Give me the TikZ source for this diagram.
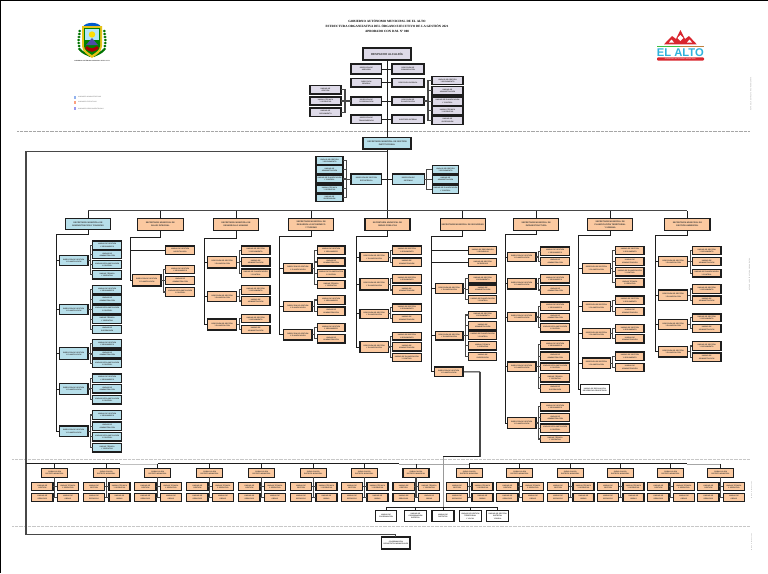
\documentclass[tikz,border=0pt]{standalone}
\usepackage{fontspec}
\setmainfont{Liberation Sans}
\newfontfamily\titlefont{Liberation Serif}
\definecolor{bxblue}{HTML}{B7DFEA}
\definecolor{bxorange}{HTML}{FBC9A0}
\definecolor{bxlav}{HTML}{DEDAE8}
\definecolor{txtgray}{HTML}{333333}
\definecolor{lnk}{HTML}{1E1E1E}
\definecolor{frm}{HTML}{474747}
\definecolor{logored}{HTML}{D9252E}
\definecolor{logoblue}{HTML}{2FB2DC}
\tikzset{
  boxbase/.style={draw=lnk,line width=1.05pt,inner sep=0pt,outer sep=0pt,align=center,text=txtgray,
     font=\bfseries\fontsize{1.75}{2.3}\selectfont},
  bblue/.style={boxbase,fill=bxblue},
  borange/.style={boxbase,fill=bxorange},
  blav/.style={boxbase,fill=bxlav},
  bwhite/.style={boxbase,fill=white},
  bsec/.style={font=\bfseries\fontsize{2.1}{2.9}\selectfont},
  conn/.style={draw=lnk,line width=0.9pt},
  spine/.style={draw=frm,line width=1.05pt},
  framel/.style={draw=frm,line width=1.15pt},
  sepl/.style={draw=black!35,line width=0.5pt,dash pattern=on 0.8pt off 0.5pt},
  tinyt/.style={text=black!60,inner sep=0pt,font=\fontsize{1.6}{2}\selectfont},
}
% box from corner to corner, in reference pixels
\newcommand{\bx}[7]{%
  \pgfmathsetmacro\bxa{#3}\pgfmathsetmacro\bxb{#4}\pgfmathsetmacro\bxc{#5}\pgfmathsetmacro\bxd{#6}%
  \node[#2,minimum width={(\bxc-\bxa)*1pt},minimum height={(\bxd-\bxb)*1pt}] (#1) at ({(\bxa+\bxc)/2},{(\bxb+\bxd)/2}) {#7};}
\newcommand{\leaf}[1]{\ifcase\numexpr#1-1\relax UNIDAD DE GESTIÓN\\Y SEGUIMIENTO\or UNIDAD DE\\ADMINISTRACIÓN\or UNIDAD DE PLANIFICACIÓN\\Y CONTROL\or UNIDAD TÉCNICA\\Y OPERATIVA\else UNIDAD DE\\SUPERVISIÓN\fi}
\newcommand{\dtxt}{DIRECCIÓN DE GESTIÓN\\Y PLANIFICACIÓN}
% director hanging from trunk: trunk name, node name, style, x1,y1,x2,y2
\newcommand{\dirb}[7]{\bx{#2}{#3}{#4}{#5}{#6}{#7}{\dtxt}\draw[conn] (#2.west) -- (#1 |- #2.west);}
% children: parent, style, x1, x2, list y1/y2
\newcommand{\kids}[5]{\foreach \ya/\yb [count=\ki] in {#5}{%
  \bx{#1k\ki}{#2}{#3}{\ya}{#4}{\yb}{\leaf{\ki}}%
  \draw[spine] (#1.east) -- ++(2.4,0) |- (#1k\ki.west);}}
% trunk from a secretariat: node, trunk coordinate, x, y
\newcommand{\trunk}[4]{\coordinate (#2) at (#3,#4); \draw[conn] (#1.south) |- (#2);}
\begin{document}
\begin{tikzpicture}[x=1pt,y=-1pt]
\useasboundingbox (0,0) rectangle (768,573);
\fill[white] (0,0) rectangle (768,573);
\fill[black] (0,0) rectangle (768,1);
\fill[black] (0,0) rectangle (1,573);

% ---- title
\node[inner sep=0pt,font=\titlefont\bfseries\fontsize{3.2}{5}\selectfont,align=center,text=black] (title) at (387,26)
  {GOBIERNO AUTÓNOMO MUNICIPAL DE EL ALTO\\ESTRUCTURA ORGANIZATIVA DEL ÓRGANO EJECUTIVO DE LA GESTIÓN 2021\\APROBADO CON D.M. N° 000};

% ---- coat of arms
\foreach \yy in {31,34,37,40,43,46,49}{
  \fill[green!45!black] ({78.5+abs(\yy-41)*0.12},\yy) ellipse (1.6 and 1.3);
  \fill[green!45!black] ({105.5-abs(\yy-41)*0.12},\yy) ellipse (1.6 and 1.3);
}
\fill[green!45!black] (79,50) .. controls (82,54) and (86,55) .. (90,57) -- (91,55) .. controls (87,53) and (83,52) .. (81,49) -- cycle;
\fill[green!45!black] (105,50) .. controls (102,54) and (98,55) .. (94,57) -- (93,55) .. controls (97,53) and (101,52) .. (103,49) -- cycle;
\fill[blue!55!cyan!80!black] (83,27) .. controls (85,21.5) and (99,21.5) .. (101,27) -- cycle;
\fill[yellow!70!orange!90!black] (82,26) -- (102,26) -- (102,46) .. controls (102,52) and (96,55) .. (92,58) .. controls (88,55) and (82,52) .. (82,46) -- cycle;
\fill[green!50!black] (84,28) -- (100,28) -- (100,46) .. controls (100,50) and (95,53) .. (92,55) .. controls (89,53) and (84,50) .. (84,46) -- cycle;
\fill[cyan!30!white] (85,29) -- (99,29) -- (99,40) -- (85,40) -- cycle;
\fill[yellow!80!orange] (92,34.5) circle (3.2);
\fill[blue!50!black!70] (86,45) -- (92,38) -- (98,45) -- cycle;
\fill[red!65!black] (85,48) .. controls (90,53) and (94,53) .. (99,48) -- (97,46) .. controls (93,49) and (90,49) .. (87,46) -- cycle;
\node[tinyt,text=black!80,font=\bfseries\fontsize{1.5}{2}\selectfont] (armsname) at (92,61.2) {GOBIERNO AUTÓNOMO MUNICIPAL DE EL ALTO};

% ---- legend
\fill[bxblue!80!blue] (73.6,95.6) rectangle (76.4,98.6);
\fill[bxorange!80!red] (73.6,100.6) rectangle (76.4,103.6);
\fill[bxlav!70!blue] (73.6,107) rectangle (76.4,110);
\node[tinyt,anchor=west] (leg1) at (78,96.8) {UNIDADES ADMINISTRATIVAS};
\node[tinyt,anchor=west] (leg2) at (78,102) {UNIDADES EJECUTIVAS};
\node[tinyt,anchor=west] (leg3) at (78,108.6) {UNIDADES DESCONCENTRADAS};

% ---- El Alto logo
\fill[logored] (664,44.3) -- (672,36) -- (676,39) -- (680.4,30) -- (685,39) -- (689,36) -- (696.7,44.3) -- cycle;
\fill[white] (677.5,38) -- (680.4,35) -- (683.3,38) -- (680.4,41) -- cycle;
\fill[white] (669,42.5) -- (671.5,39.5) -- (674,42.5) -- cycle;
\fill[white] (687,42.5) -- (689.5,39.5) -- (692,42.5) -- cycle;
\fill[green!50!gray] (657,45.6) rectangle (680,46.2);
\fill[orange!50!gray] (680,45.6) rectangle (704,46.2);
\node[inner sep=0pt,text=logoblue,font=\bfseries\fontsize{11.2}{12}\selectfont] (elalto) at (680.3,52.2) {EL ALTO};
\fill[logored,rounded corners=1pt] (657,57.3) rectangle (704,60.7);
\node[inner sep=0pt,text=white,font=\fontsize{1.8}{2}\selectfont] (lema) at (680.3,59) {GOBIERNO AUTÓNOMO MUNICIPAL};

% ---- side notes
\node[tinyt,rotate=90,text=black!40] (side1) at (750.8,94) {NOTA DE LA ESTRUCTURA ORGANIZATIVA};
\node[tinyt,rotate=90,text=black!40] (side2) at (749.6,274.5) {NOTA DE LA ESTRUCTURA ORGANIZATIVA};
\node[tinyt,rotate=90,text=black!40,font=\fontsize{1.3}{2}\selectfont] (side3) at (751.6,490.5) {NOTA DE LA ESTRUCTURA};
\node[tinyt,rotate=90,text=black!40,font=\fontsize{1.3}{2}\selectfont] (side4) at (751.6,542.5) {NOTA DE LA ESTRUCTURA};

% ---- separators
\coordinate (sa1) at (17,131.5); \coordinate (sa2) at (750,131.5);
\coordinate (sb1) at (12,459); \coordinate (sb2) at (750,459);
\coordinate (sc1) at (12,526.7); \coordinate (sc2) at (750,526.7);
\draw[sepl] (sa1) -- (sa2);
\draw[sepl,draw=black!22] (sb1) -- (sb2);
\draw[sepl,draw=black!22] (sc1) -- (sc2);

% ---- despacho
\bx{desp}{blav}{363}{48}{411}{60}{\fontsize{2.9}{3.4}\selectfont\bfseries DESPACHO ALCALDÍA}
\bx{sg}{bblue,bsec}{363}{137.3}{411}{149}{SECRETARÍA MUNICIPAL DE GESTIÓN\\INSTITUCIONAL}
\draw[conn] (desp.south) -- (sg.north);
\bx{la}{blav}{351}{64}{381.7}{74}{DIRECCIÓN DE\\ASESORÍA}
\bx{lb}{blav}{351}{78.7}{381.7}{87}{DIRECCIÓN\\GENERAL}
\bx{lc}{blav}{351}{97}{381.7}{105}{DIRECCIÓN DE\\COORDINACIÓN}
\bx{ld}{blav}{351}{115}{381.7}{123.7}{DIRECCIÓN DE\\TRANSPARENCIA}
\bx{ra}{blav}{392}{64}{424}{74}{DIRECCIÓN DE\\COMUNICACIÓN}
\bx{rb}{blav}{392}{78.7}{424}{87}{DIRECCIÓN JURÍDICA}
\bx{rc}{blav}{392}{97}{424}{105}{DIRECCIÓN DE\\PLANIFICACIÓN}
\bx{rd}{blav}{392}{115}{424}{123.7}{AUDITORÍA INTERNA}
\foreach \n in {la,lb,lc,ld}{\draw[conn] (\n.east) -- (\n.east -| desp.south);}
\foreach \n in {ra,rb,rc,rd}{\draw[conn] (\n.west) -- (\n.west -| desp.south);}
\bx{fla}{blav}{310}{85.7}{341}{94}{UNIDAD DE\\GESTIÓN}
\bx{flb}{blav}{310}{97}{341}{105}{UNIDAD TÉCNICA\\Y OPERATIVA}
\bx{flc}{blav}{310}{108}{341}{116.7}{UNIDAD DE\\SEGUIMIENTO}
\foreach \n in {fla,flb,flc}{\draw[spine] (lc.west) -- ++(-6,0) |- (\n.east);}
\foreach \n/\a/\b [count=\i] in {fra/76.7/84.7,frb/86.7/95,frc/97/105.3,frd/106.3/115,fre/116.3/124.7}{
  \bx{\n}{blav}{432}{\a}{463}{\b}{\leaf{\i}}
  \draw[spine] (rc.east) -- ++(4,0) |- (\n.west);}

% ---- frame going round the lower part
\coordinate (fr1) at (387,151.7);
\coordinate (fr2) at (26,534.7);
\bx{fin}{bwhite}{381.7}{537}{410}{549}{COORDINACIÓN\\DE DISTRITOS MUNICIPALES}
\draw[conn] (sg.south) -- (fr1);
\draw[framel] (fr1) -| (fr2) -| (fin.north);

% ---- central block
\coordinate (busm) at (387,210.7);
\draw[conn] (sg.south) -- (busm);
\bx{ma}{bblue}{351}{174}{381.7}{184.3}{DIRECCIÓN DE GESTIÓN\\ESTRATÉGICA}
\bx{mb}{bblue}{392.3}{174}{424.3}{184.3}{DIRECCIÓN DE\\SISTEMAS}
\draw[conn] (ma.east) -- (ma.east -| busm); \draw[conn] (mb.west) -- (mb.west -| busm);
\foreach \a/\b [count=\i] in {156.7/165,165.7/174,175/183,185/192.7,194/201.7}{
  \bx{mla\i}{bblue}{316}{\a}{343}{\b}{\leaf{\i}}
  \draw[spine] (ma.west) -- ++(-4.3,0) |- (mla\i.east);}
\foreach \a/\b [count=\i] in {165.7/173.3,175/183.3,185/193.3}{
  \bx{mra\i}{bblue}{432.3}{\a}{458.7}{\b}{\leaf{\i}}
  \draw[spine] (mb.east) -- ++(2.4,0) |- (mra\i.west);}

% ---- secretariats
\bx{s1}{bblue,bsec}{65.3}{218.3}{110.7}{229.3}{SECRETARÍA MUNICIPAL DE\\ADMINISTRACIÓN Y FINANZAS}
\bx{s2}{borange,bsec}{137.3}{218.3}{183.3}{230.3}{SECRETARÍA MUNICIPAL DE\\SALUD INTEGRAL}
\bx{s3}{borange,bsec}{213.3}{218.3}{258.7}{230.3}{SECRETARÍA MUNICIPAL DE\\DESARROLLO HUMANO}
\bx{s4}{borange,bsec}{288.7}{218.3}{333.7}{230.3}{SECRETARÍA MUNICIPAL DE\\DESARROLLO ECONÓMICO\\Y TURISMO}
\bx{s5}{borange,bsec}{365}{218.3}{410}{230.3}{SECRETARÍA MUNICIPAL DE\\OBRAS PÚBLICAS}
\bx{s6}{borange,bsec}{440.3}{218.3}{485.3}{230.3}{SECRETARÍA MUNICIPAL DE SEGURIDAD}
\bx{s7}{borange,bsec}{513.7}{218.7}{558.7}{230.3}{SECRETARÍA MUNICIPAL DE\\INFRAESTRUCTURA}
\bx{s8}{borange,bsec}{587.7}{218.7}{632.7}{230.3}{SECRETARÍA MUNICIPAL DE\\PLANIFICACIÓN TERRITORIAL\\Y URBANA}
\bx{s9}{borange,bsec}{664.7}{218.7}{710}{230.3}{SECRETARÍA MUNICIPAL DE\\GESTIÓN AMBIENTAL}
\foreach \i in {1,...,9}{\draw[conn] (s\i.north) -- (s\i.north |- busm);}
\draw[framel] (s1.north |- busm) -- (s9.north |- busm);

% ---- column 1
\trunk{s1}{t1}{56.3}{234}
\dirb{t1}{a1}{bblue}{59.3}{255.3}{88}{265.7}
\dirb{t1}{a2}{bblue}{59.3}{304.3}{88}{314.7}
\dirb{t1}{a3}{bblue}{59.3}{347.7}{88}{359.7}
\dirb{t1}{a4}{bblue}{59.3}{383.3}{88}{394.7}
\dirb{t1}{a5}{bblue}{59.3}{426}{88}{436.3}
\draw[conn] (t1) |- (a5.west);
\kids{a1}{bblue}{92.7}{121.7}{241/249.7,250.7/258.7,260.3/268.7,270.3/279}
\kids{a2}{bblue}{92.7}{121.7}{285.7/294,295.3/303.7,305/313.3,315/323.7,325.3/333.7}
\kids{a3}{bblue}{92.7}{121.7}{339.7/348,350/358,359.7/367.7}
\kids{a4}{bblue}{92.7}{121.7}{374/382.7,384.3/393,395.3/404}
\kids{a5}{bblue}{92.7}{121.7}{410.7/419.3,422/430.7,432.3/441,443.3/452}

% ---- column 2
\trunk{s2}{t2}{130.7}{237.3}
\bx{b0}{borange}{165.7}{246}{194.7}{254.7}{UNIDAD DE GESTIÓN\\HOSPITALARIA}
\draw[conn] (b0.west) -- (t2 |- b0.west);
\dirb{t2}{b1}{borange}{132.3}{274.3}{161}{286}
\draw[conn] (t2) |- (b1.west);
\kids{b1}{borange}{165.7}{194.7}{265.3/273.7,276.3/284.7,287.7/296.3}

% ---- column 3
\trunk{s3}{t3}{204.7}{238.3}
\dirb{t3}{c1}{borange}{207.7}{256.3}{236.7}{268}
\dirb{t3}{c2}{borange}{207.7}{291.7}{236.7}{301.7}
\dirb{t3}{c3}{borange}{207.7}{319}{236.7}{330}
\draw[conn] (t3) |- (c3.west);
\kids{c1}{borange}{241.3}{270}{246/254.7,257.7/266,269/277.3}
\kids{c2}{borange}{241.3}{270}{285.3/294.3,296.7/305.3}
\kids{c3}{borange}{241.3}{270}{314.3/322.7,325.3/333.3}

% ---- column 4
\trunk{s4}{t4}{279.7}{236}
\dirb{t4}{d1}{borange}{283.7}{263.3}{312}{273}
\dirb{t4}{d2}{borange}{283.7}{301.3}{312}{311.7}
\dirb{t4}{d3}{borange}{283.7}{329.3}{312}{340}
\draw[conn] (t4) |- (d3.west);
\kids{d1}{borange}{317.3}{345}{246/254.7,258/266,269.3/277.3,280.3/288.7}
\kids{d2}{borange}{317.3}{345}{295.7/304.3,307/315.7}
\kids{d3}{borange}{317.3}{345}{323.3/331.7,334.3/343}

% ---- column 5
\trunk{s5}{t5}{356}{236}
\dirb{t5}{e1}{borange}{360}{252.7}{388.3}{261.7}
\dirb{t5}{e2}{borange}{360}{278.7}{388.3}{290}
\dirb{t5}{e3}{borange}{360}{309.3}{388.3}{318.3}
\dirb{t5}{e4}{borange}{360}{341.7}{388.3}{352.3}
\draw[conn] (t5) |- (e4.west);
\kids{e1}{borange}{392.3}{421.3}{246/254.7,258/266.7}
\kids{e2}{borange}{392.3}{421.3}{274.3/283,285.7/294.3}
\kids{e3}{borange}{392.3}{421.3}{304/311.7,314.3/322.7}
\kids{e4}{borange}{392.3}{421.3}{332.3/340,342.7/351,353.7/361.7}

% ---- column 6
\trunk{s6}{t6}{431.3}{236}
\bx{f01}{borange}{468.7}{246.3}{496.7}{254.7}{UNIDAD DE PREVENCIÓN\\Y SEGURIDAD}
\bx{f02}{borange}{468.7}{258.3}{496.7}{266.7}{UNIDAD DE GESTIÓN\\DE RIESGOS}
\draw[conn] (f01.west) -- (t6 |- f01.west);
\draw[conn] (f02.west) -- (t6 |- f02.west);
\dirb{t6}{f1}{borange}{435.3}{283.7}{463}{293.3}
\dirb{t6}{f2}{borange}{435.3}{331.7}{463}{340}
\dirb{t6}{f3}{borange}{434.3}{367}{463}{376.7}
\draw[conn] (t6) |- (f3.west);
\kids{f1}{borange}{468.7}{496.7}{274.7/283,285/293.3,295.3/303.7}
\kids{f2}{borange}{468.7}{496.7}{311.3/318.7,321.3/330,331.3/339.3,341.7/350,352.3/360.3}

% ---- column 7
\trunk{s7}{t7}{505.3}{234.7}
\dirb{t7}{g1}{borange}{507.3}{252.3}{536}{261.7}
\dirb{t7}{g2}{borange}{507.3}{278.7}{536}{289}
\dirb{t7}{g3}{borange}{507.3}{312.3}{536}{321.7}
\dirb{t7}{g4}{borange}{507.3}{362}{536}{371.3}
\dirb{t7}{g5}{borange}{507.3}{417.7}{536}{428.3}
\draw[conn] (t7) |- (g5.west);
\kids{g1}{borange}{540.7}{569.7}{247/255.7,257.3/265.7}
\kids{g2}{borange}{540.7}{569.7}{274.3/283,285.7/294.3}
\kids{g3}{borange}{540.7}{569.7}{302/310.7,313.3/321,323.3/332}
\kids{g4}{borange}{540.7}{569.7}{340.3/349,352/360.7,363/370.7,373.3/382,384.3/392.7}
\kids{g5}{borange}{540.7}{569.7}{402.3/411,413.7/421.7,424/432.3,435.3/442.7}

% ---- column 8
\trunk{s8}{t8}{578.3}{235}
\dirb{t8}{h1}{borange}{582.3}{263.3}{610.3}{273.3}
\dirb{t8}{h2}{borange}{582.3}{301.3}{610.3}{311.3}
\dirb{t8}{h3}{borange}{582.3}{328.7}{610.3}{338.7}
\dirb{t8}{h4}{borange}{582.3}{358}{610.3}{368.3}
\bx{h5}{bwhite}{580.3}{384.3}{609.3}{394.7}{UNIDAD DE REGULACIÓN\\DE DERECHO PROPIETARIO}
\draw[conn] (t8) |- (h5.west);
\kids{h1}{borange}{615.7}{644}{246.3/254.3,257.3/265.7,267.7/276,278.7/287}
\kids{h2}{borange}{615.7}{644}{296/304.3,307.3/315.7}
\kids{h3}{borange}{615.7}{644}{324.3/332.7,334.7/343}
\kids{h4}{borange}{615.7}{644}{352/360.3,363.3/371.7}

% ---- column 9
\trunk{s9}{t9}{655.3}{235.5}
\dirb{t9}{i1}{borange}{658.7}{256.3}{687.7}{266.7}
\dirb{t9}{i2}{borange}{658.7}{290}{687.7}{300.3}
\dirb{t9}{i3}{borange}{658.7}{319.3}{687.7}{329.7}
\dirb{t9}{i4}{borange}{658.7}{346.7}{687.7}{357}
\draw[conn] (t9) |- (i4.west);
\kids{i1}{borange}{692.3}{721}{246.3/254.7,257.7/265.7,269.3/277}
\kids{i2}{borange}{692.3}{721}{284.7/293.3,296/304.3}
\kids{i3}{borange}{692.3}{721}{314/321.7,324.3/332.7}
\kids{i4}{borange}{692.3}{721}{341.7/350.3,353/361.7}

% ---- district boxes
\coordinate (busA) at (26,463.7);
\coordinate (busB) at (120,463.7);
\coordinate (busC) at (157.7,463.7);
\coordinate (busD) at (399,463.7);
\coordinate (busE) at (416,463.7);
\coordinate (busF) at (443,463.7);
\coordinate (busG) at (469.3,463.7);
\coordinate (busH) at (686.7,463.7);
\coordinate (busI) at (720.7,463.7);
\draw[draw=black!25,line width=0.4pt] (busB) -- (busC);
\draw[draw=black!35,line width=0.4pt] (busD) -- (busG);
\draw[draw=black!35,line width=0.4pt] (busH) -- (busI);
\draw[conn] (busA) -- (busB);
\draw[conn] (busC) -- (busD);
\draw[conn] (busG) -- (busH);
\foreach \c [count=\i] in {54.7,106.3,157.7,209.7,261.7,313.3,364.3,416,469.3,519.7,570.3,620.3,670.7,720.7}{
  \bx{q\i}{borange}{\c-13}{468.7}{\c+13}{477.3}{SUBALCALDÍA\\DISTRITO MUNICIPAL}
  \bx{ql\i}{borange}{\c-23}{482.7}{\c-1.7}{490.7}{UNIDAD DE\\GESTIÓN}
  \bx{qr\i}{borange}{\c+2.7}{482.7}{\c+23.7}{490.7}{UNIDAD TÉCNICA\\Y OPERATIVA}
  \bx{qm\i}{borange}{\c-23}{493.3}{\c-1.7}{501.7}{UNIDAD DE\\SERVICIOS}
  \bx{qn\i}{borange}{\c+2.7}{493.3}{\c+23.7}{501.7}{UNIDAD DE\\OBRAS}
  \draw[conn] (q\i.north) -- (q\i.north |- busA);
  \draw[spine] (q\i.south) -- (q\i.south |- qm\i.east);
  \draw[spine] (ql\i.east) -- (qr\i.west);
  \draw[spine] (qm\i.east) -- (qn\i.west);
}

% ---- link from column 6 to the white boxes
\coordinate (lk1) at (480,371.85);
\coordinate (lk2) at (480,456.7);
\coordinate (lk3) at (443,456.7);
\coordinate (wb) at (443,507.3);
\draw[conn] (f3.east) -- (lk1);
\draw[framel,line width=1.4pt] (lk1) -- (lk2);
\draw[conn] (lk2) -- (lk3);
\draw[draw=black!40,line width=0.4pt] (lk3) -- (wb);
\bx{w1}{bwhite}{375.3}{510.3}{396.7}{521.7}{UNIDAD DE\\COORDINACIÓN}
\bx{w2}{bwhite}{404.3}{510.3}{426.7}{521.7}{UNIDAD DE\\COORDINACIÓN\\DISTRITAL}
\bx{w3}{bwhite}{432}{510.3}{454}{521.7}{UNIDAD DE\\DISTRITOS}
\bx{w4}{bwhite}{459.3}{510.3}{481.3}{521.7}{UNIDAD DE GESTIÓN\\TERRITORIAL\\Y LOCAL}
\bx{w5}{bwhite}{486.7}{510.3}{508.7}{521.7}{UNIDAD DE GESTIÓN\\DISTRITAL\\Y RURAL}
\draw[conn] (w1.north |- wb) -- (w5.north |- wb);
\foreach \n in {w1,w2,w3,w4,w5}{\draw[conn] (\n.north) -- (\n.north |- wb);}
\end{tikzpicture}
\end{document}
